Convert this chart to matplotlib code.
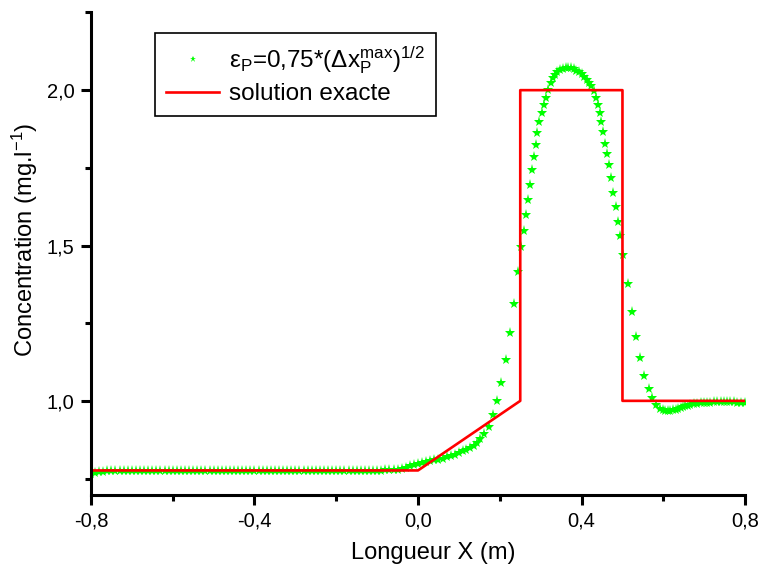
import numpy as np
import matplotlib
matplotlib.use("Agg")
import matplotlib.pyplot as plt
from matplotlib.ticker import FixedLocator, FixedFormatter

plt.rcParams['font.family'] = ['Liberation Sans', 'DejaVu Sans']

# solution exacte (ligne rouge)
x_exact = [-0.8, 0.0, 0.25, 0.25, 0.5, 0.5, 0.8]
c_exact = [0.776, 0.776, 1.0, 2.0, 2.0, 1.0, 1.0]

# solution numerique (etoiles vertes)
x_num = [
    -0.80, -0.79, -0.78, -0.77, -0.76, -0.75, -0.74, -0.73, -0.72, -0.71,
    -0.70, -0.69, -0.68, -0.67, -0.66, -0.65, -0.64, -0.63, -0.62, -0.61,
    -0.60, -0.59, -0.58, -0.57, -0.56, -0.55, -0.54, -0.53, -0.52, -0.51,
    -0.50, -0.49, -0.48, -0.47, -0.46, -0.45, -0.44, -0.43, -0.42, -0.41,
    -0.40, -0.39, -0.38, -0.37, -0.36, -0.35, -0.34, -0.33, -0.32, -0.31,
    -0.30, -0.29, -0.28, -0.27, -0.26, -0.25, -0.24, -0.23, -0.22, -0.21,
    -0.20, -0.19, -0.18, -0.17, -0.16, -0.15, -0.14, -0.13, -0.12, -0.11,
    -0.10, -0.09, -0.08, -0.07, -0.06, -0.05, -0.04, -0.03, -0.02, -0.01,
    0.000, 0.010, 0.020, 0.030, 0.040, 0.050, 0.061, 0.071, 0.081, 0.090,
    0.100, 0.110, 0.118, 0.128, 0.136, 0.144, 0.152, 0.162, 0.174, 0.183,
    0.194, 0.204, 0.215, 0.225, 0.235, 0.244, 0.253, 0.259, 0.263, 0.268,
    0.273, 0.278, 0.283, 0.288, 0.292, 0.297, 0.302, 0.307, 0.312, 0.318,
    0.324, 0.329, 0.336, 0.341, 0.348, 0.355, 0.361, 0.368, 0.374, 0.381,
    0.387, 0.394, 0.400, 0.407, 0.413, 0.419, 0.424, 0.430, 0.435, 0.440,
    0.444, 0.448, 0.453, 0.458, 0.463, 0.468, 0.473, 0.478, 0.483, 0.488,
    0.493, 0.502, 0.513, 0.523, 0.533, 0.543, 0.553, 0.564, 0.573, 0.583,
    0.593, 0.599, 0.605, 0.611, 0.617, 0.624, 0.630, 0.636, 0.642, 0.648,
    0.654, 0.660, 0.666, 0.675, 0.683, 0.691, 0.699, 0.707, 0.715, 0.724,
    0.732, 0.740, 0.748, 0.756, 0.764, 0.772, 0.781, 0.790, 0.799,
]
c_num = [
    0.764, 0.767, 0.770, 0.772, 0.773, 0.774, 0.774, 0.774, 0.774, 0.774,
    0.774, 0.774, 0.774, 0.774, 0.774, 0.774, 0.774, 0.774, 0.774, 0.774,
    0.774, 0.774, 0.774, 0.774, 0.774, 0.774, 0.774, 0.774, 0.774, 0.774,
    0.774, 0.774, 0.774, 0.774, 0.774, 0.774, 0.774, 0.774, 0.774, 0.774,
    0.774, 0.774, 0.774, 0.774, 0.774, 0.774, 0.774, 0.774, 0.774, 0.774,
    0.774, 0.774, 0.774, 0.774, 0.774, 0.774, 0.774, 0.774, 0.774, 0.774,
    0.774, 0.774, 0.774, 0.774, 0.774, 0.774, 0.774, 0.774, 0.774, 0.774,
    0.775, 0.775, 0.776, 0.776, 0.777, 0.778, 0.781, 0.785, 0.789, 0.794,
    0.797, 0.801, 0.804, 0.807, 0.809, 0.811, 0.814, 0.819, 0.823, 0.827,
    0.832, 0.837, 0.842, 0.848, 0.855, 0.864, 0.877, 0.894, 0.916, 0.954,
    0.999, 1.059, 1.133, 1.218, 1.313, 1.414, 1.496, 1.548, 1.599, 1.646,
    1.695, 1.742, 1.786, 1.825, 1.863, 1.897, 1.927, 1.953, 1.975, 2.000,
    2.022, 2.038, 2.049, 2.058, 2.064, 2.068, 2.070, 2.071, 2.070, 2.068,
    2.063, 2.058, 2.051, 2.043, 2.033, 2.023, 2.012, 1.997, 1.975, 1.952,
    1.926, 1.897, 1.864, 1.826, 1.795, 1.759, 1.716, 1.670, 1.625, 1.577,
    1.532, 1.470, 1.375, 1.286, 1.205, 1.137, 1.080, 1.038, 1.009, 0.986,
    0.973, 0.970, 0.968, 0.967, 0.968, 0.970, 0.972, 0.975, 0.977, 0.980,
    0.983, 0.985, 0.987, 0.989, 0.990, 0.992, 0.993, 0.994, 0.994, 0.995,
    0.995, 0.995, 0.995, 0.995, 0.995, 0.995, 0.994, 0.994, 0.993,
]

x_major = [-0.8, -0.4, 0.0, 0.4, 0.8]
x_minor = [-0.6, -0.2, 0.2, 0.6]
x_labels = ['-0,8', '-0,4', '0,0', '0,4', '0,8']
y_major = [1.0, 1.5, 2.0]
y_minor = [0.75, 1.25, 1.75, 2.25]
y_labels = ['1,0', '1,5', '2,0']

fig = plt.figure(figsize=(7.58, 5.70), dpi=100)
ax = fig.add_axes([0.120, 0.1316, 0.863, 0.8465])

ax.plot(x_num, c_num, linestyle='none', marker='*', markersize=8,
        color='#00ff00', markeredgewidth=0,
        label=r'$\mathregular{\epsilon_P}$=0,75*($\mathregular{\Delta x_P^{max}}$)$\mathregular{^{1/2}}$')
ax.plot(x_exact, c_exact, color='#ff0000', linewidth=1.9, label='solution exacte')

ax.set_xlim(-0.8, 0.8)
ax.set_ylim(0.697, 2.25)

ax.xaxis.set_major_locator(FixedLocator(x_major))
ax.xaxis.set_major_formatter(FixedFormatter(x_labels))
ax.xaxis.set_minor_locator(FixedLocator(x_minor))
ax.yaxis.set_major_locator(FixedLocator(y_major))
ax.yaxis.set_major_formatter(FixedFormatter(y_labels))
ax.yaxis.set_minor_locator(FixedLocator(y_minor))

for side in ['top', 'right']:
    ax.spines[side].set_visible(False)
for side in ['left', 'bottom']:
    ax.spines[side].set_linewidth(2.2)
    ax.spines[side].set_clip_on(False)

ax.tick_params(which='major', direction='out', length=7, width=2.2, labelsize=14.5, pad=5)
ax.tick_params(which='minor', direction='out', length=4, width=2.2)

ax.set_xlabel('Longueur X (m)', fontsize=17)
ax.set_ylabel(r'Concentration (mg.l$\mathregular{^{-1}}$)', fontsize=17)
ax.xaxis.set_label_coords(0.523, -0.098)
ax.yaxis.set_label_coords(-0.078, 0.528)

leg = ax.legend(loc='upper left', bbox_to_anchor=(0.098, 0.957), borderaxespad=0,
                fontsize=17.5, numpoints=1, markerscale=0.6, fancybox=False,
                edgecolor='black', framealpha=1, handlelength=2.2,
                handletextpad=0.4, borderpad=0.45, labelspacing=0.3)
leg.get_frame().set_linewidth(1.2)

fig.savefig('out.png', dpi=100)
